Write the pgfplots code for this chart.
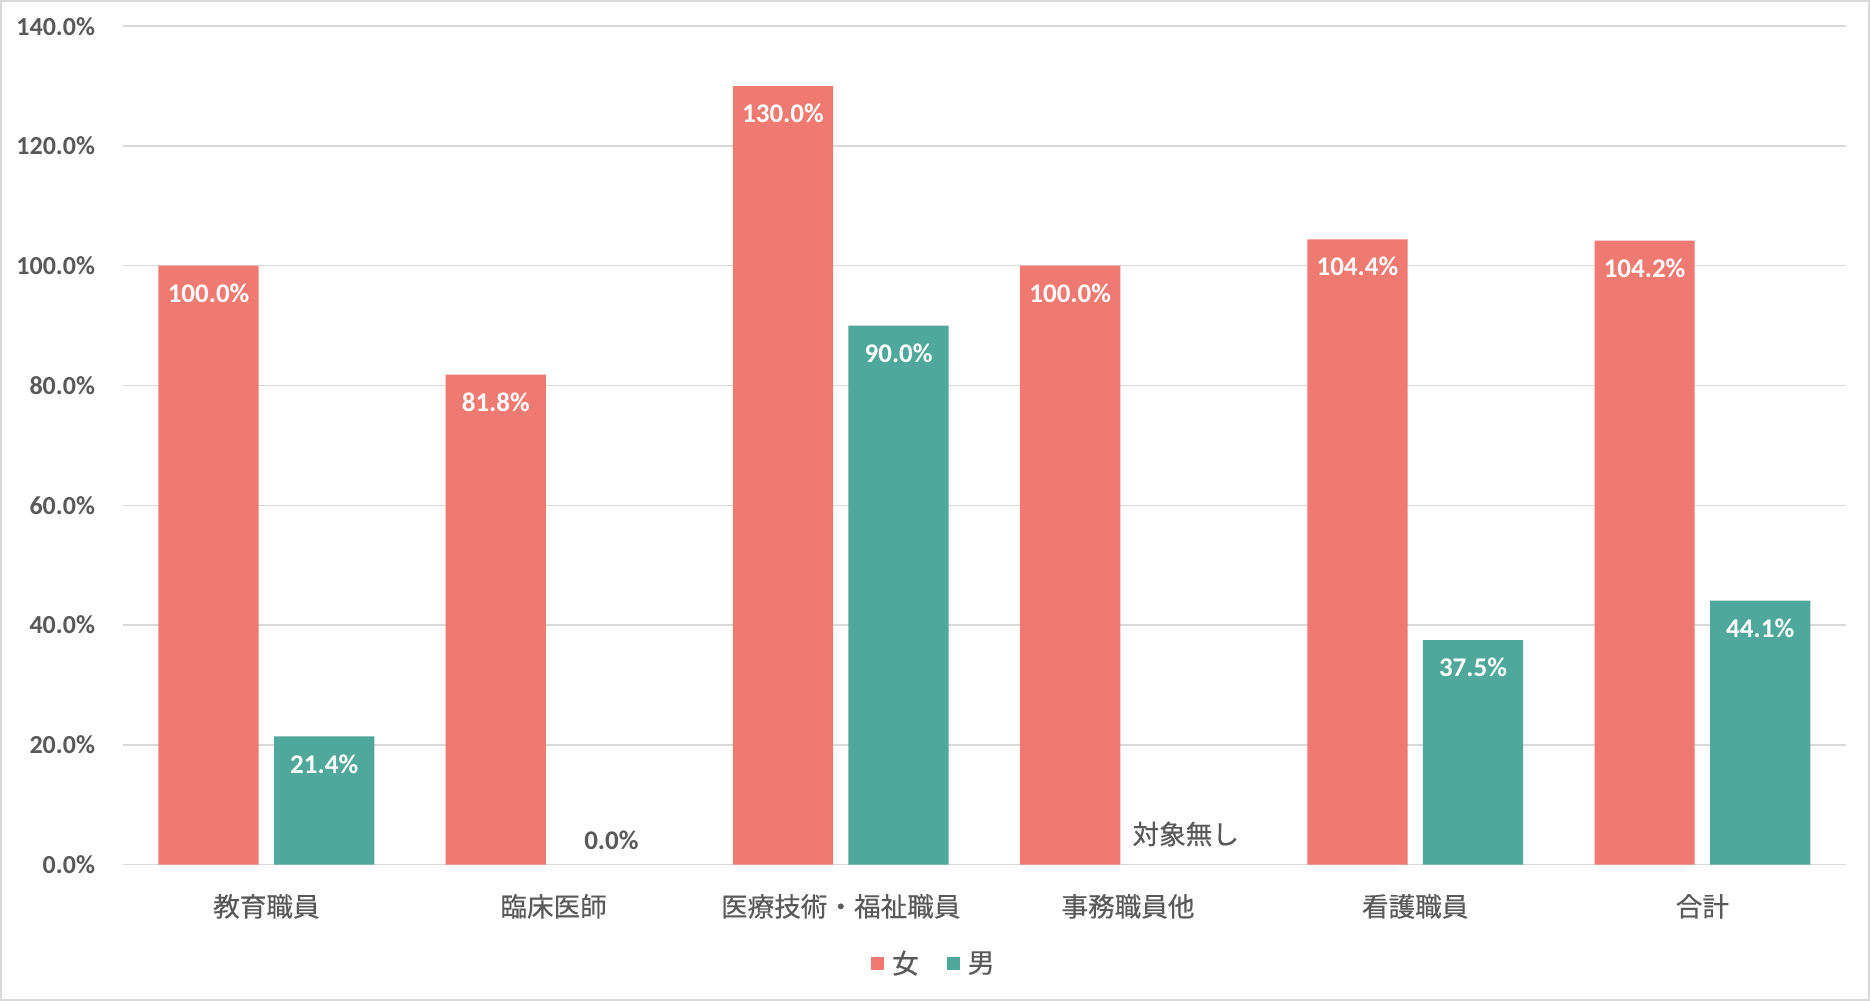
\documentclass[border=0pt]{standalone}
\usepackage{fontspec}
\setmainfont{Carlito}
\newfontfamily\jp[FakeBold=0.4]{Noto Sans CJK JP}
\usepackage{pgfplots}
\pgfplotsset{compat=1.18}
\definecolor{fem}{HTML}{EF7A71}
\definecolor{mal}{HTML}{50A79B}
\definecolor{txt}{HTML}{595959}
\definecolor{grd}{HTML}{D9D9D9}
\begin{document}
\begin{tikzpicture}
\begin{axis}[
  at={(0,0)}, anchor=south west,
  scale only axis, width=861.6pt, height=419.2pt,
  xmin=-0.5, xmax=5.5, ymin=0, ymax=140,
  ytick={0,20,...,140},
  xtick={0,...,5},
  xticklabels={教育職員,臨床医師,医療技術・福祉職員,事務職員他,看護職員,合計},
  xticklabel style={font=\jp\fontsize{13.3}{15}\selectfont, text=txt, anchor=center, yshift=-20.9pt},
  yticklabel={\pgfmathprintnumber[fixed,fixed zerofill,precision=1]{\tick}\%},
  yticklabel style={font=\bfseries\fontsize{13}{15}\selectfont, text=txt, anchor=east, inner sep=0pt, xshift=-13.7pt},
  /pgf/number format/assume math mode=true,
  major tick length=0pt,
  axis line style={draw=none},
  ymajorgrids, grid style={grd, line width=0.75pt},
  clip=false,
  legend style={at={(0.4713,-0.118)}, anchor=center, draw=none, fill=none,
    legend columns=2, font=\jp\fontsize{13.5}{15}\selectfont, text=txt,
    /tikz/every odd column/.append style={column sep=2pt},
    /tikz/every even column/.append style={column sep=12pt}},
  legend image code/.code={\fill[#1] (0pt,-3.2pt) rectangle (6.4pt,3.2pt);},
]
\addplot[ybar, bar width=50.1pt, bar shift=-28.9pt, fill=fem, draw=none,
  nodes near coords={\pgfmathprintnumber[fixed,fixed zerofill,precision=1]{\pgfplotspointmeta}\%},
  nodes near coords style={font=\bfseries\fontsize{13.5}{15}\selectfont, text=white, anchor=center, xshift=-28.9pt, yshift=-13.7pt}]
  coordinates {(0,100) (1,81.8) (2,130) (3,100) (4,104.4) (5,104.2)};
\addplot[ybar, bar width=50.1pt, bar shift=28.9pt, fill=mal, draw=none,
  nodes near coords={\pgfmathprintnumber[fixed,fixed zerofill,precision=1]{\pgfplotspointmeta}\%},
  nodes near coords style={font=\bfseries\fontsize{13.5}{15}\selectfont, text=white, anchor=center, xshift=28.9pt, yshift=-13.7pt}]
  coordinates {(0,21.4) (2,90) (4,37.5) (5,44.1)};
\addplot[ybar, bar width=50.1pt, bar shift=28.9pt, draw=none, fill=none, forget plot,
  point meta=explicit symbolic, nodes near coords,
  nodes near coords style={font=\bfseries\fontsize{13.5}{15}\selectfont, text=txt, anchor=center, xshift=28.9pt, yshift=11.9pt}]
  coordinates {(1,0) [0.0\%]};
\addplot[ybar, bar width=50.1pt, bar shift=28.9pt, draw=none, fill=none, forget plot,
  point meta=explicit symbolic, nodes near coords,
  nodes near coords style={font=\jp\fontsize{13.3}{15}\selectfont, text=txt, anchor=center, xshift=28.9pt, yshift=15.3pt}]
  coordinates {(3,0) [対象無し]};
\legend{女,男}
\end{axis}
\draw[grd, line width=1pt] (-60.9pt,-67.7pt) rectangle (873.1pt,431.8pt);
\end{tikzpicture}
\end{document}
